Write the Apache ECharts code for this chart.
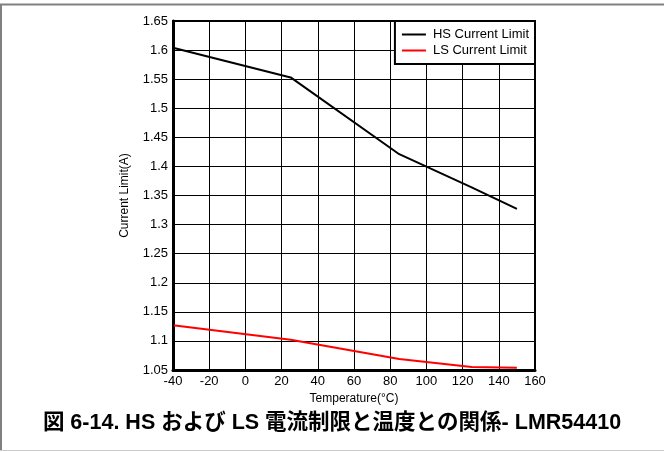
<!DOCTYPE html>
<html>
<head>
<meta charset="utf-8">
<script src="https://cdn.jsdelivr.net/npm/echarts@6/dist/echarts.min.js"></script>
<style>
    html, body { margin: 0; padding: 0; background: #fff; }
    #chart { width: 664px; height: 452px; }
</style>
</head>
<body>
<div id="chart"></div>
<script>
// temperature points (°C) and current limit (A)
var temps = [-40, 25, 85, 125, 150];
var hsLimit = [1.604, 1.553, 1.421, 1.364, 1.327];
var lsLimit = [1.127, 1.102, 1.069, 1.055, 1.054];
var seriesNames = ["HS Current Limit", "LS Current Limit"];
var captionText = "図 6-14. HS および LS 電流制限と温度との関係- LMR54410";

var font = "Arial, 'Liberation Sans', 'Noto Sans CJK JP', sans-serif";

function pairs(xs, ys) {
    var out = [];
    for (var i = 0; i < xs.length; i++) {
        out.push([xs[i], ys[i]]);
    }
    return out;
}

var myChart = echarts.init(document.getElementById("chart"));
var option = {
    animation: false,
    backgroundColor: "#fff",
    textStyle: { fontFamily: font },
    grid: { left: 173, top: 21, right: 129, bottom: 82 },
    xAxis: {
        type: "value",
        min: -40,
        max: 160,
        interval: 20,
        name: "Temperature(°C)",
        nameLocation: "middle",
        nameGap: 23,
        nameTextStyle: { color: "#000", fontSize: 12, fontFamily: font },
        axisLine: { show: true, onZero: false, lineStyle: { color: "#000", width: 3 } },
        axisTick: { show: false },
        axisLabel: { color: "#000", fontSize: 13, margin: 5, fontFamily: font },
        splitLine: { show: true, lineStyle: { color: "#000", width: 1 } }
    },
    yAxis: {
        type: "value",
        min: 1.05,
        max: 1.65,
        interval: 0.05,
        name: "Current Limit(A)",
        nameLocation: "middle",
        nameGap: 42,
        nameTextStyle: { color: "#000", fontSize: 12, fontFamily: font },
        axisLine: { show: true, onZero: false, lineStyle: { color: "#000", width: 3 } },
        axisTick: { show: false },
        axisLabel: {
            color: "#000",
            fontSize: 13,
            margin: 5,
            fontFamily: font,
            formatter: function(v) { return String(Math.round(v * 100) / 100); }
        },
        splitLine: { show: true, lineStyle: { color: "#000", width: 1 } }
    },
    legend: {
        orient: "vertical",
        right: 129,
        top: 21,
        backgroundColor: "#fff",
        borderColor: "#000",
        borderWidth: 2,
        padding: [7, 6, 7, 7],
        itemGap: 3,
        itemWidth: 24,
        itemHeight: 2,
        textStyle: { color: "#000", fontSize: 13, fontFamily: font, padding: [0, 0, 0, 2] },
        data: [
            { name: seriesNames[0], icon: "rect" },
            { name: seriesNames[1], icon: "rect" }
        ]
    },
    series: [
        {
            name: seriesNames[0],
            type: "line",
            data: pairs(temps, hsLimit),
            showSymbol: false,
            color: "#000",
            lineStyle: { color: "#000", width: 2 }
        },
        {
            name: seriesNames[1],
            type: "line",
            data: pairs(temps, lsLimit),
            showSymbol: false,
            color: "#ff0000",
            lineStyle: { color: "#ff0000", width: 2 }
        }
    ],
    graphic: [
        { type: "rect", shape: { x: 173, y: 21, width: 362, height: 349 }, style: { fill: null, stroke: "#000", lineWidth: 2 }, z: 10 },
        { type: "line", shape: { x1: 0, y1: 4.5, x2: 664, y2: 4.5 }, style: { stroke: "#808080", lineWidth: 2 } },
        { type: "line", shape: { x1: 1, y1: 4, x2: 1, y2: 450 }, style: { stroke: "#808080", lineWidth: 2 } },
        { type: "line", shape: { x1: 0, y1: 450.5, x2: 664, y2: 450.5 }, style: { stroke: "#cccccc", lineWidth: 1 } },
        {
            type: "text",
            left: "center",
            top: 412,
            style: {
                text: captionText,
                fill: "#000",
                font: "bold 21.5px Arial, 'Liberation Sans', 'Noto Sans CJK JP', sans-serif"
            }
        }
    ]
};
myChart.setOption(option);
</script>
</body>
</html>
